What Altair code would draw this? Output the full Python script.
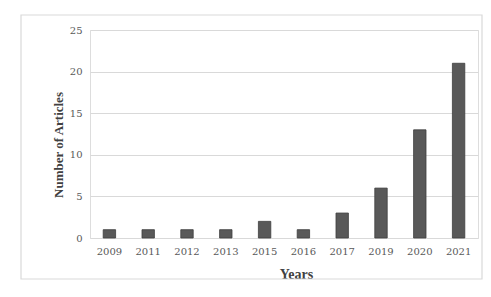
import altair as alt
import pandas as pd

years = ["2009", "2011", "2012", "2013", "2015", "2016", "2017", "2019", "2020", "2021"]
articles = [1, 1, 1, 1, 2, 1, 3, 6, 13, 21]

df = pd.DataFrame({"Years": years, "Articles": articles})

W, H = 388, 208

border = alt.Chart(pd.DataFrame({"a": [0]})).mark_rect(
    filled=False, stroke="#d9d9d9", strokeWidth=1.2, clip=False
).encode(
    x=alt.value(-69), x2=alt.value(392), y=alt.value(-15), y2=alt.value(249)
)

bars = alt.Chart(df).mark_bar(
    color="#595959", stroke="#3f3f3f", strokeWidth=0.8
).encode(
    x=alt.X("Years:N", sort=years,
            scale=alt.Scale(paddingInner=0.68, paddingOuter=0.34),
            axis=alt.Axis(title="Years", labelAngle=0, domain=False, ticks=False, grid=False,
                          labelFont="DejaVu Serif", labelFontSize=10, labelColor="#595959",
                          labelPadding=8,
                          titleFont="Liberation Serif", titleFontSize=14, titleFontWeight="bold",
                          titleColor="#404040", titleX=206, titleY=36,
                          titleBaseline="middle", titleAlign="center")),
    y=alt.Y("Articles:Q", scale=alt.Scale(domain=[0, 25]),
            axis=alt.Axis(title="Number of Articles", values=[0, 5, 10, 15, 20, 25],
                          domain=False, ticks=False, gridColor="#d9d9d9", gridWidth=1,
                          labelFont="DejaVu Serif", labelFontSize=10, labelColor="#595959",
                          labelPadding=8,
                          titleFont="Liberation Serif", titleFontSize=13, titleFontWeight="bold",
                          titleColor="#404040", titleX=-32, titleY=114.5, titleAngle=270,
                          titleBaseline="middle", titleAlign="center")),
)

chart = alt.layer(border, bars).properties(
    width=W, height=H,
    autosize=alt.AutoSizeParams(type="none"),
    padding={"left": 82, "top": 22, "right": 5, "bottom": 50},
).configure_view(strokeWidth=0, stroke="white").configure_axis(
    domain=False
).configure(background="white")

chart.save("out.html", embed_options={"renderer": "svg", "actions": False})
